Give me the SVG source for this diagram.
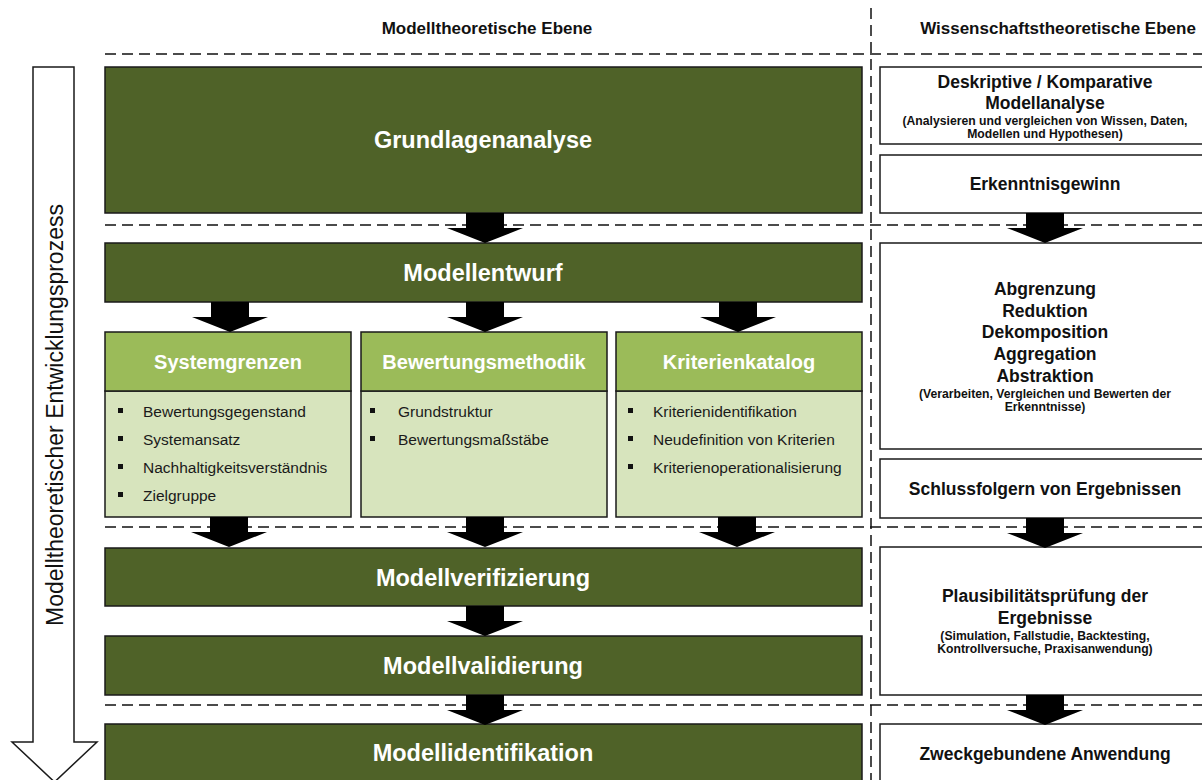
<svg xmlns="http://www.w3.org/2000/svg" width="1202" height="780" viewBox="0 0 1202 780">
  <defs>
    <style>
      text { font-family: "Liberation Sans", Arial, sans-serif; }
      .hdr { font-size: 17px; font-weight: bold; fill: #111; text-anchor: middle; }
      .dark { fill: #4F6228; stroke: #1a1a1a; stroke-width: 1.5; }
      .light-h { fill: #9BBB59; stroke: #1a1a1a; stroke-width: 1.5; }
      .light-b { fill: #D7E4BD; stroke: #1a1a1a; stroke-width: 1.5; }
      .white { fill: #ffffff; stroke: #1a1a1a; stroke-width: 1.5; }
      .t-main { font-size: 23.5px; font-weight: bold; fill: #ffffff; text-anchor: middle; }
      .t-sub { font-size: 20px; font-weight: bold; fill: #ffffff; text-anchor: middle; }
      .t-item { font-size: 15.5px; fill: #1a1a1a; }
      .t-r { font-size: 17.5px; font-weight: bold; fill: #111; text-anchor: middle; }
      .t-rs { font-size: 12.2px; font-weight: bold; fill: #111; text-anchor: middle; }
      .dash { stroke: #111; stroke-width: 1.5; stroke-dasharray: 11 6; fill: none; }
      .bul { fill: #111; }
    </style>
    <path id="down" d="M-19,0 H19 V15 H38 L0,30 L-38,15 H-19 Z" fill="#000"/>
  </defs>

  <rect width="1202" height="780" fill="#ffffff"/>

  <!-- column headings -->
  <text class="hdr" x="487" y="34">Modelltheoretische Ebene</text>
  <text class="hdr" x="1058" y="34">Wissenschaftstheoretische  Ebene</text>

  <!-- level separators -->
  <g id="separators">
    <line class="dash" x1="871" y1="8" x2="871" y2="780"/>
    <line class="dash" x1="105" y1="54" x2="1202" y2="54"/>
    <line class="dash" x1="105" y1="225" x2="1202" y2="225"/>
    <line class="dash" x1="105" y1="527" x2="1202" y2="527"/>
    <line class="dash" x1="105" y1="705" x2="1202" y2="705"/>
  </g>

  <!-- process arrow on the left -->
  <g id="process-arrow">
    <path d="M33,67 H74 V742 H97 L54.5,782 L12,742 H33 Z" fill="#ffffff" stroke="#1a1a1a" stroke-width="1.5"/>
    <text transform="translate(63,415) rotate(-90)" x="0" y="0" font-size="23" fill="#111" text-anchor="middle">Modelltheoretischer Entwicklungsprozess</text>
  </g>

  <!-- model-theoretic level -->
  <g id="grundlagenanalyse">
    <rect class="dark" x="105" y="67" width="757" height="146"/>
    <text class="t-main" x="483" y="148">Grundlagenanalyse</text>
  </g>
  <g id="modellentwurf">
    <rect class="dark" x="105" y="243" width="757" height="59"/>
    <text class="t-main" x="483" y="281">Modellentwurf</text>
  </g>

  <g id="systemgrenzen">
    <rect class="light-b" x="105" y="391" width="246" height="126"/>
    <rect class="light-h" x="105" y="332" width="246" height="59"/>
    <text class="t-sub" x="228" y="369">Systemgrenzen</text>
    <rect class="bul" x="118" y="408" width="5" height="5"/>
    <text class="t-item" x="143" y="417">Bewertungsgegenstand</text>
    <rect class="bul" x="118" y="436" width="5" height="5"/>
    <text class="t-item" x="143" y="445">Systemansatz</text>
    <rect class="bul" x="118" y="464" width="5" height="5"/>
    <text class="t-item" x="143" y="473">Nachhaltigkeitsverständnis</text>
    <rect class="bul" x="118" y="492" width="5" height="5"/>
    <text class="t-item" x="143" y="501">Zielgruppe</text>
  </g>

  <g id="bewertungsmethodik">
    <rect class="light-b" x="361" y="391" width="246" height="126"/>
    <rect class="light-h" x="361" y="332" width="246" height="59"/>
    <text class="t-sub" x="484" y="369">Bewertungsmethodik</text>
    <rect class="bul" x="370" y="408" width="5" height="5"/>
    <text class="t-item" x="398" y="417">Grundstruktur</text>
    <rect class="bul" x="370" y="436" width="5" height="5"/>
    <text class="t-item" x="398" y="445">Bewertungsmaßstäbe</text>
  </g>

  <g id="kriterienkatalog">
    <rect class="light-b" x="616" y="391" width="246" height="126"/>
    <rect class="light-h" x="616" y="332" width="246" height="59"/>
    <text class="t-sub" x="739" y="369">Kriterienkatalog</text>
    <rect class="bul" x="628" y="408" width="5" height="5"/>
    <text class="t-item" x="653" y="417">Kriterienidentifikation</text>
    <rect class="bul" x="628" y="436" width="5" height="5"/>
    <text class="t-item" x="653" y="445">Neudefinition von Kriterien</text>
    <rect class="bul" x="628" y="464" width="5" height="5"/>
    <text class="t-item" x="653" y="473">Kriterienoperationalisierung</text>
  </g>

  <g id="modellverifizierung">
    <rect class="dark" x="105" y="548" width="757" height="58"/>
    <text class="t-main" x="483" y="586">Modellverifizierung</text>
  </g>
  <g id="modellvalidierung">
    <rect class="dark" x="105" y="636" width="757" height="59"/>
    <text class="t-main" x="483" y="674">Modellvalidierung</text>
  </g>
  <g id="modellidentifikation">
    <rect class="dark" x="105" y="724" width="757" height="70"/>
    <text class="t-main" x="483" y="761">Modellidentifikation</text>
  </g>

  <!-- science-theoretic level -->
  <g id="modellanalyse">
    <rect class="white" x="880" y="67" width="340" height="77"/>
    <text class="t-r" x="1045" y="88">Deskriptive / Komparative</text>
    <text class="t-r" x="1045" y="109">Modellanalyse</text>
    <text class="t-rs" x="1045" y="125">(Analysieren und vergleichen von Wissen, Daten,</text>
    <text class="t-rs" x="1045" y="138">Modellen und Hypothesen)</text>
  </g>
  <g id="erkenntnisgewinn">
    <rect class="white" x="880" y="155" width="340" height="58"/>
    <text class="t-r" x="1045" y="190">Erkenntnisgewinn</text>
  </g>
  <g id="verarbeitung">
    <rect class="white" x="880" y="243" width="340" height="206"/>
    <text class="t-r" x="1045" y="295">Abgrenzung</text>
    <text class="t-r" x="1045" y="317">Reduktion</text>
    <text class="t-r" x="1045" y="338">Dekomposition</text>
    <text class="t-r" x="1045" y="360">Aggregation</text>
    <text class="t-r" x="1045" y="382">Abstraktion</text>
    <text class="t-rs" x="1045" y="398">(Verarbeiten, Vergleichen und Bewerten der</text>
    <text class="t-rs" x="1045" y="411">Erkenntnisse)</text>
  </g>
  <g id="schlussfolgern">
    <rect class="white" x="880" y="459" width="340" height="59"/>
    <text class="t-r" x="1045" y="495">Schlussfolgern von Ergebnissen</text>
  </g>
  <g id="plausibilitaet">
    <rect class="white" x="880" y="547" width="340" height="148"/>
    <text class="t-r" x="1045" y="602">Plausibilitätsprüfung der</text>
    <text class="t-r" x="1045" y="624">Ergebnisse</text>
    <text class="t-rs" x="1045" y="640">(Simulation, Fallstudie, Backtesting,</text>
    <text class="t-rs" x="1045" y="653">Kontrollversuche, Praxisanwendung)</text>
  </g>
  <g id="anwendung">
    <rect class="white" x="880" y="724" width="340" height="70"/>
    <text class="t-r" x="1045" y="760">Zweckgebundene Anwendung</text>
  </g>

  <!-- connectors -->
  <g id="connectors">
    <use href="#down" x="485" y="213"/>
    <use href="#down" x="230" y="302"/>
    <use href="#down" x="485" y="302"/>
    <use href="#down" x="738" y="302"/>
    <use href="#down" x="229" y="517"/>
    <use href="#down" x="485" y="517"/>
    <use href="#down" x="737" y="517"/>
    <use href="#down" x="485" y="606"/>
    <use href="#down" x="485" y="695"/>
    <use href="#down" x="1045" y="213"/>
    <use href="#down" x="1045" y="518"/>
    <use href="#down" x="1045" y="695"/>
  </g>
</svg>
